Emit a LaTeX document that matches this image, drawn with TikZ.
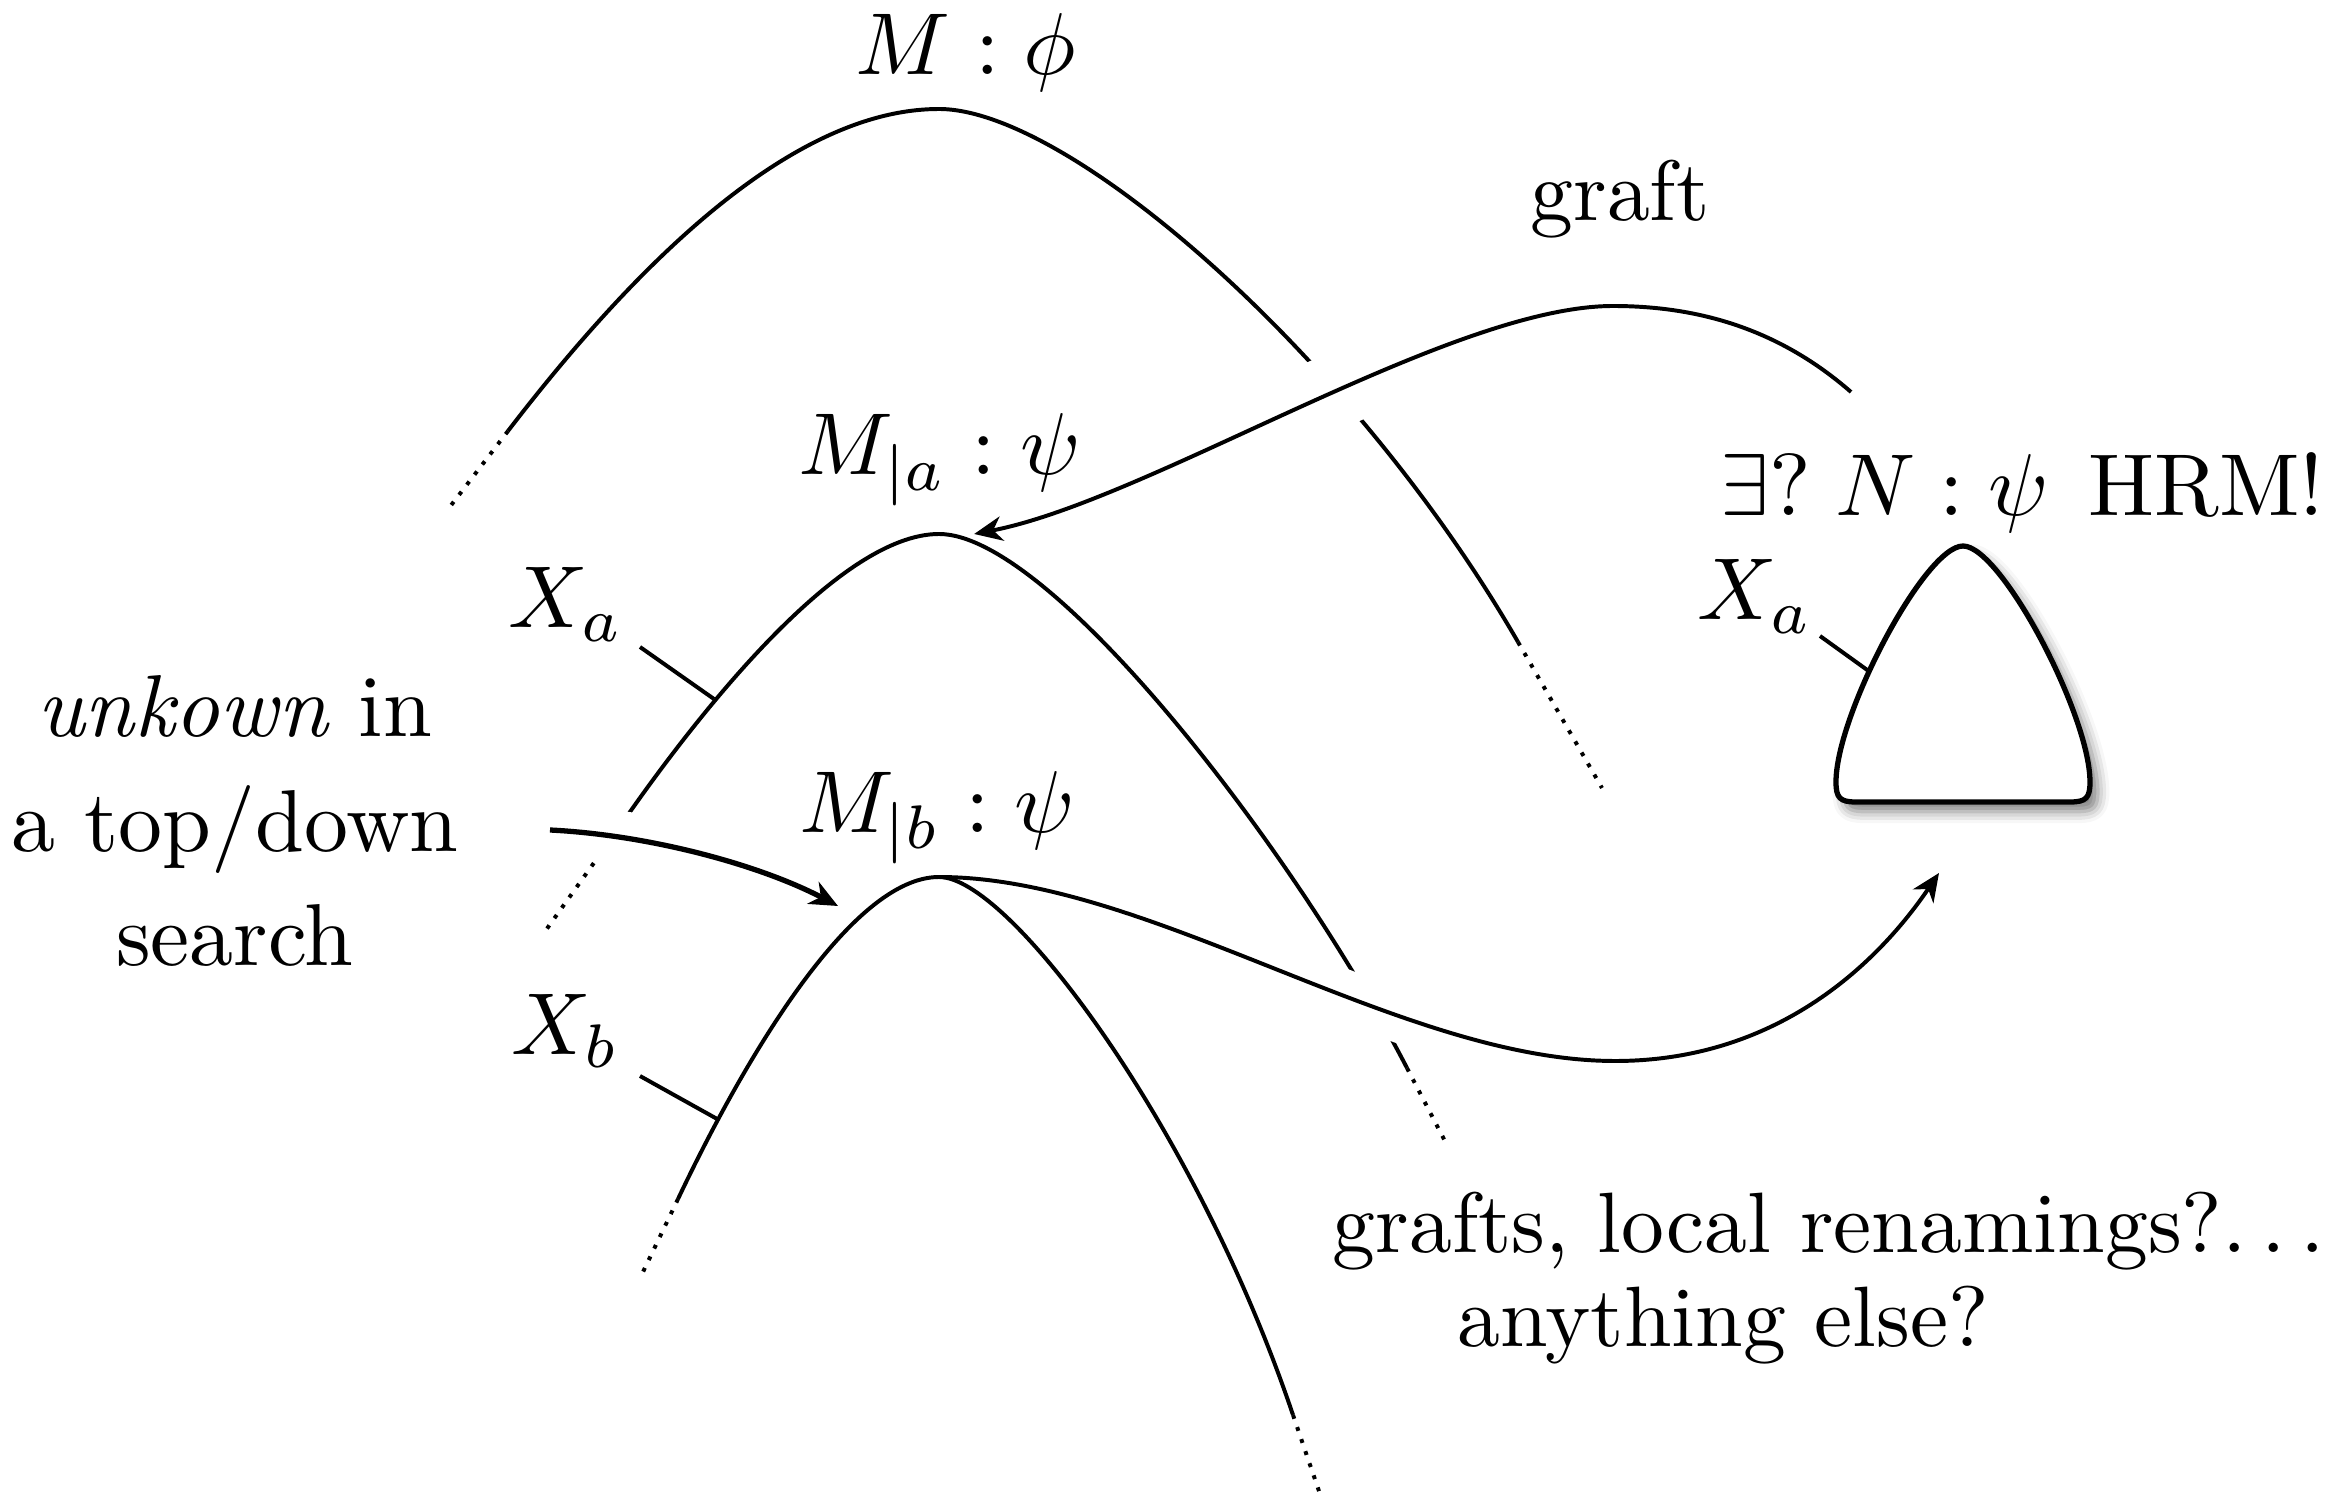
\documentclass[tikz,border=0pt]{standalone}
\usetikzlibrary{arrows.meta,shadows.blur}
\begin{document}
\begin{tikzpicture}[x=0.004cm,y=-0.004cm,
  curve/.style={line width=0.45pt},
  dotcurve/.style={line width=0.45pt, densely dotted},
  halo/.style={preaction={draw=white, line width=#1, -}},
  halo/.default=6pt,
  tipstyle/.style={-{Stealth[length=3.2pt,width=2.8pt,inset=1pt]}},
  lbl/.style={inner sep=0pt, anchor=base},
  smalltext/.style={font=\fontsize{9.75}{12}\selectfont}]
\useasboundingbox (0,0) rectangle (2344,1497);

% peaks and end points
\coordinate (p1) at (939,109);
\coordinate (p2) at (939,534);
\coordinate (p3) at (939,877);
\coordinate (graftstart) at (1851,392);
\coordinate (graftmax) at (1613,306);
\coordinate (lowmin) at (1615,1061);
\coordinate (lowtip) at (1939,873);
\coordinate (arrstart) at (550,830);
\coordinate (arrtip) at (838,906);

% curve 1 : M : phi
\draw[curve] (508,431) .. controls (673,216) and (817,109) .. (p1)
  .. controls (1069,109) and (1353,356) .. (1518,642);
\draw[dotcurve] (508,431) -- (449,508);
\draw[dotcurve] (1518,642) -- (1602,788);

% graft arrow
\draw[curve, halo=8.5pt, tipstyle] (graftstart) .. controls (1780,330) and (1700,306) .. (graftmax)
  .. controls (1450,306) and (1150,500) .. ([xshift=4]p2);

% curve 2 : M_|a
\draw[curve] (616,832) .. controls (697,714) and (839,534) .. (p2)
  .. controls (1050,534) and (1292,846) .. (1407,1068);
\draw[dotcurve] (616,832) -- (546,930);
\draw[dotcurve] (1407,1068) -- (1447,1145);

% left arrow
\draw[line width=0.6pt, halo=6pt, tipstyle] (arrstart) .. controls (650,835) and (760,865) .. (arrtip);

% lower connector
\draw[curve, halo=6pt, tipstyle] (p3) .. controls (1150,877) and (1400,1061) .. (lowmin)
  .. controls (1780,1061) and (1880,960) .. (lowtip);

% curve 3 : M_|b
\draw[curve] (678,1199) .. controls (742,1064) and (850,877) .. (p3)
  .. controls (1010,877) and (1197,1130) .. (1293,1415);
\draw[dotcurve] (678,1199) -- (642,1274);
\draw[dotcurve] (1293,1415) -- (1321,1497);

% ticks
\coordinate (xat) at (640,647); \coordinate (xac) at (714,699);
\coordinate (xbt) at (640,1076); \coordinate (xbc) at (719,1120);
\coordinate (xrt) at (1820,636); \coordinate (xrc) at (1870,672);
\draw[curve] (xat) -- (xac);
\draw[curve] (xbt) -- (xbc);

% triangle N
\draw[line width=0.6pt, fill=white,
  blur shadow={shadow xshift=0.9pt, shadow yshift=-1.1pt, shadow blur radius=1.3pt, shadow opacity=50}]
  (1963,546) .. controls (1925,546) and (1836,715) .. (1836,782)
  .. controls (1836,798) and (1840,802) .. (1856,802) -- (2070,802)
  .. controls (2086,802) and (2090,798) .. (2090,782)
  .. controls (2090,715) and (2001,546) .. (1963,546) -- cycle;
\draw[curve] (xrt) -- (xrc);

% labels
\node[lbl] (lphi) at (966,75) {$M : \phi$};
\node[lbl, smalltext] (lgraft) at (1620,221) {graft};
\node[lbl] (lma) at (940,475) {$M_{|a} : \psi$};
\node[inner sep=0pt, anchor=base east] (lex) at (2326,516) {$\exists?\;N : \psi$\hspace{4.5pt}HRM!};
\node[lbl] (lxa) at (566,628) {$X_a$};
\node[lbl] (lxr) at (1755,620) {$X_a$};
\node[lbl] (lmb) at (937,833) {$M_{|b} : \psi$};
\node[lbl] (lxb) at (566,1054) {$X_b$};
\node[inner sep=0pt, anchor=north, align=center] (lunk) at (235,674)
  {\emph{unkown} in\\[1pt] a top/down\\[1pt] search};
\node[inner sep=0pt, anchor=base west, smalltext] (lgrafts) at (1331,1253) {grafts, local renamings?$\ldots$};
\node[lbl, smalltext] (lany) at (1723,1346) {anything else?};
\end{tikzpicture}
\end{document}
